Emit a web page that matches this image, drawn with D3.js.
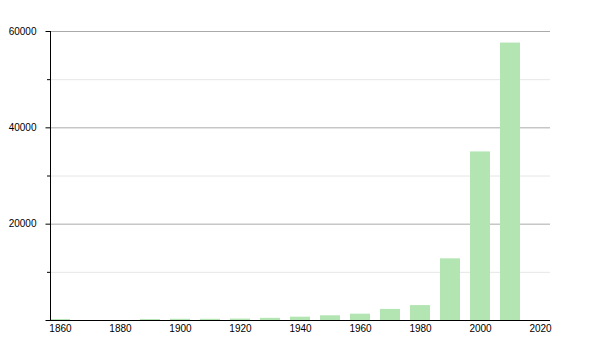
<!DOCTYPE html>
<html><head><meta charset="utf-8">
<script src="https://cdn.jsdelivr.net/npm/d3@7"></script>
<style>body{margin:0;background:#fff;}svg{display:block;font-family:"Liberation Sans",Arial,sans-serif;}</style>
</head><body>
<svg id="c" width="600" height="350"></svg>
<script>
const years = [1860,1870,1880,1890,1900,1910,1920,1930,1940,1950,1960,1970,1980,1990,2000,2010];
const population = [200,0,0,200,250,250,300,450,690,980,1310,2300,3100,12800,35000,57600];
const xTicks = [1860,1880,1900,1920,1940,1960,1980,2000,2020];
const yMajorTicks = [20000,40000,60000];
const yMinorTicks = [10000,30000,50000];

const svg = d3.select("#c");
const x = d3.scaleLinear().domain([1856.6667, 2023.3333]).range([50, 550]);
const y = d3.scaleLinear().domain([0, 60000]).range([320, 31]);
const barW = 20;

// minor grid
svg.append("g").selectAll("line").data(yMinorTicks).join("line")
  .attr("x1", 50).attr("x2", 550).attr("y1", d => y(d)+0.5).attr("y2", d => y(d)+0.5)
  .attr("stroke", "#e6e6e6").attr("stroke-width", 1);
// major grid
svg.append("g").selectAll("line").data(yMajorTicks).join("line")
  .attr("x1", 50).attr("x2", 550).attr("y1", d => y(d)+0.5).attr("y2", d => y(d)+0.5)
  .attr("stroke", "#aaaaaa").attr("stroke-width", 1);

// bars
svg.append("g").selectAll("rect").data(years.map((yr,i)=>({yr, v: population[i]})).filter(d=>d.v>0)).join("rect")
  .attr("x", d => x(d.yr) - barW/2).attr("width", barW)
  .attr("y", d => y(d.v)).attr("height", d => y(0) - y(d.v))
  .attr("fill", "#b3e5b3");

// y axis
const yAxis = svg.append("g").attr("transform", "translate(50.5,0)")
  .call(d3.axisLeft(y).tickValues([0].concat(yMajorTicks)).tickSize(5).tickPadding(9).tickFormat(d => d === 0 ? "" : d3.format("d")(d)));
yAxis.select(".domain").remove();
yAxis.selectAll("text").attr("font-size", 10).attr("fill", "#000").attr("font-family", "Liberation Sans, Arial, sans-serif");
yAxis.selectAll(".tick line").attr("stroke", "#000");
svg.append("g").selectAll("line").data(yMinorTicks).join("line")
  .attr("x1", 47).attr("x2", 50).attr("y1", d => y(d)+0.5).attr("y2", d => y(d)+0.5)
  .attr("stroke", "#000");
svg.append("line").attr("x1", 50.5).attr("x2", 50.5).attr("y1", y(60000)).attr("y2", 320.5).attr("stroke", "#000");

// x axis
const xAxis = svg.append("g").attr("transform", "translate(0,320.5)")
  .call(d3.axisBottom(x).tickValues(xTicks).tickSize(0).tickPadding(4).tickFormat(d3.format("d")));
xAxis.select(".domain").remove();
xAxis.selectAll("text").attr("font-size", 10).attr("fill", "#000").attr("font-family", "Liberation Sans, Arial, sans-serif");
svg.append("line").attr("x1", 50).attr("x2", 550).attr("y1", 320.5).attr("y2", 320.5).attr("stroke", "#000");
</script>
</body></html>
